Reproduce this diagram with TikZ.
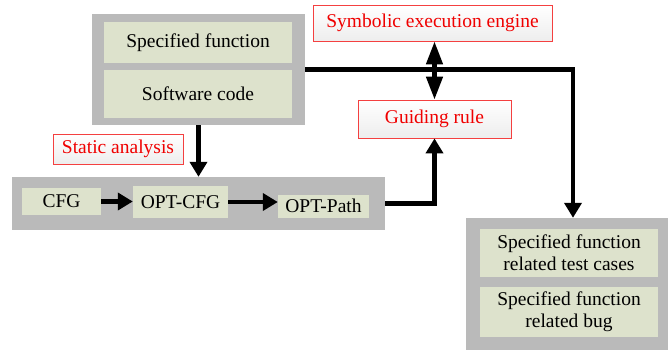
\documentclass[tikz,border=0pt]{standalone}
\usepackage{fontspec}
\setmainfont{Liberation Serif}
\usetikzlibrary{arrows.meta}
\definecolor{panelgray}{HTML}{BABABA}
\definecolor{itemfill}{HTML}{DDE2CC}
\definecolor{tagred}{HTML}{F00000}
\tikzset{
  panel/.style={fill=panelgray, inner sep=0pt},
  item/.style={fill=itemfill, inner sep=0pt, align=center, font=\rmfamily\fontsize{19.5}{22}\selectfont},
  tag/.style={top color=white, bottom color=black!7, draw=tagred!75, line width=0.8pt,
    text=tagred, inner sep=0pt, font=\rmfamily\fontsize{19.5}{22}\selectfont},
  head/.tip={Triangle[length=15pt,width=17pt]},
  longhead/.tip={Triangle[length=23pt,width=16pt]},
  flow/.style={line width=4.5pt, -head},
}
\begin{document}
\begin{tikzpicture}[x=1pt,y=-1pt]
\useasboundingbox (0,0) rectangle (670,349);
% source panel
\node[panel, minimum width=213, minimum height=111] (src) at (198.5,69.5) {};
\node[item, minimum width=188, minimum height=41] (spec) at (198,42.5) {Specified function};
\node[item, minimum width=188, minimum height=48] (code) at (198,94) {Software code};
% analysis panel
\node[panel, minimum width=373, minimum height=53] (ana) at (198.5,203.5) {};
\node[item, minimum width=79, minimum height=27] (cfg) at (61.5,201.5) {CFG};
\node[item, minimum width=95, minimum height=32] (optcfg) at (180.5,202) {OPT-CFG};
\node[item, minimum width=91, minimum height=23] (optpath) at (323.5,206) {OPT-Path};
% result panel
\node[panel, minimum width=202, minimum height=132] (res) at (567,284) {};
\node[item, minimum width=178, minimum height=48] (cases) at (569,253) {Specified function\\related test cases};
\node[item, minimum width=178, minimum height=50] (bug) at (569,312) {Specified function\\related bug};
% red tags
\node[tag, minimum width=239, minimum height=36] (sym) at (432.5,23) {Symbolic execution engine};
\node[tag, minimum width=153, minimum height=38] (guide) at (434.5,119) {Guiding rule};
\node[tag, minimum width=130, minimum height=30] (static) at (118,149) {Static analysis};
% connectors
\draw[flow] (src.south) -- (ana.north);
\draw[flow] (cfg.east) -- (optcfg.west |- cfg.east);
\draw[flow] (optcfg.east) -- (optpath.west |- optcfg.east);
\draw[flow] (ana.east) -| (guide.south);
\coordinate (drop) at (573,0);
\draw[flow] (src.east) -| (drop |- res.north);
\draw[line width=4.5pt, longhead-longhead] (guide.north |- sym.south) -- (guide.north);
\end{tikzpicture}
\end{document}
